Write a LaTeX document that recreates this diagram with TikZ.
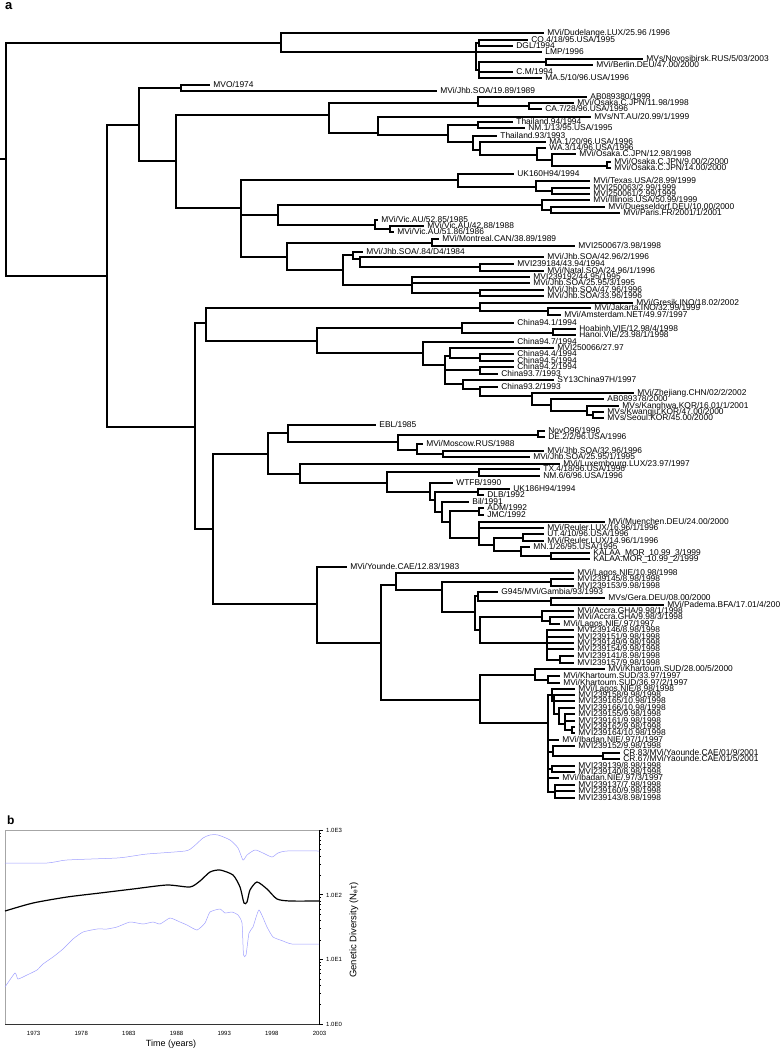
\documentclass[tikz,border=0pt]{standalone}
\usepackage{fontspec}
\setmainfont{Liberation Sans}
\tikzset{
  br/.style={line width=1.8pt, line cap=rect},
  lbl/.style={anchor=base west, inner sep=0pt, xshift=3.5pt, yshift=-2.9pt, font=\fontsize{8.4}{8.4}\selectfont},
  blu/.style={line width=0.5pt, color={rgb,255:red,160;green,160;blue,255}},
  blk/.style={line width=1.2pt, black},
  axl/.style={font=\fontsize{6}{6}\selectfont, inner sep=0pt}
}
\newcommand\myH[3]{\draw[br] (#1,#3) -- (#2,#3);}
\newcommand\myV[3]{\draw[br] (#1,#2) -- (#1,#3);}
\newcommand\myL[4]{\draw[br] (#1,#3) -- (#2,#3) node[lbl] {#4};}
\begin{document}
\begin{tikzpicture}[x=1pt,y=-1pt]
\useasboundingbox (0,0) rectangle (781,1050);
\node[anchor=base west, inner sep=0pt, font=\fontsize{13}{13}\selectfont\bfseries] (pa) at (5,9) {a};
% root
\myH{0}{6}{159}
\myV{6}{43}{276}
% top clade
\myH{6}{281}{43}
\myV{281}{33}{52}
\myL{281}{543}{33}{MVi/Dudelange.LUX/25.96 /1996}
\myH{281}{476}{52}
\myV{476}{43}{70}
\myH{476}{479}{43}
\myV{479}{40}{46}
\myL{479}{527}{40}{CO.4/18/95.USA/1995}
\myL{479}{512}{46}{DGL/1994}
\myL{476}{541}{52}{LMP/1996}
\myH{476}{479}{70}
\myV{479}{62}{78}
\myH{479}{546}{62}
\myV{546}{59}{65}
\myL{546}{642}{59}{MVs/Novosibirsk.RUS/5/03/2003}
\myL{546}{592}{65}{MVi/Berlin.DEU/47.00/2000}
\myL{479}{512}{72}{C.M/1994}
\myL{479}{541}{78}{MA.5/10/96.USA/1996}
% second root child
\myH{6}{107}{276}
\myV{107}{125}{427}
\myH{107}{139}{125}
\myV{139}{88}{161}
\myH{139}{181}{88}
\myV{181}{85}{91}
\myL{181}{209}{85}{MVO/1974}
\myL{181}{436}{91}{MVi/Jhb.SOA/19.89/1989}
\myH{139}{176}{161}
\myV{176}{115}{208}
\myH{176}{329}{115}
\myV{329}{103}{133}
\myH{329}{478}{103}
\myV{478}{97}{106}
\myL{478}{586}{97}{AB089380/1999}
\myH{478}{529}{106}
\myV{529}{103}{109}
\myL{529}{573}{103}{MVi/Osaka.C.JPN/11.98/1998}
\myL{529}{541}{109}{CA.7/28/96.USA/1996}
\myH{329}{378}{133}
\myV{378}{117}{135}
\myL{378}{590}{117}{MVs/NT.AU/20.99/1/1999}
\myH{378}{448}{135}
\myV{448}{125}{142}
\myH{448}{478}{125}
\myV{478}{122}{128}
\myL{478}{512}{122}{Thailand.94/1994}
\myL{478}{524}{128}{NM.1/13/95.USA/1995}
\myH{448}{473}{142}
\myV{473}{136}{150}
\myL{473}{496}{136}{Thailand.93/1993}
\myH{473}{480}{150}
\myV{480}{142}{155}
\myL{480}{545}{142}{MA.1/20/96.USA/1996}
\myH{480}{537}{155}
\myV{537}{148}{160}
\myL{537}{545}{148}{WA.3/14/96.USA/1996}
\myH{537}{552}{160}
\myV{552}{154}{166}
\myL{552}{575}{154}{MVi/Osaka.C.JPN/12.98/1998}
\myH{552}{607}{166}
\myV{607}{162}{168}
\myL{607}{610}{162}{MVi/Osaka.C.JPN/9.00/2/2000}
\myL{607}{610}{168}{MVi/Osaka.C.JPN/14.00/2000}
\myH{176}{241}{208}
\myV{241}{180}{257}
\myH{241}{458}{180}
\myV{458}{174}{187}
\myL{458}{513}{174}{UK160H94/1994}
\myH{458}{536}{187}
\myV{536}{181}{191}
\myL{536}{589}{181}{MVi/Texas.USA/28.99/1999}
\myH{536}{552}{191}
\myV{552}{188}{194}
\myL{552}{589}{188}{MVI250063/2.99/1999}
\myL{552}{589}{194}{MVI250061/2.99/1999}
\myH{241}{278}{215}
\myV{278}{205}{225}
\myH{278}{542}{205}
\myV{542}{200}{210}
\myL{542}{589}{200}{MVi/Illinois.USA/50.99/1999}
\myH{542}{551}{210}
\myV{551}{207}{213}
\myL{551}{604}{207}{MVi/Duesseldorf.DEU/10.00/2000}
\myL{551}{619}{213}{MVi/Paris.FR/2001/1/2001}
\myH{278}{375}{225}
\myV{375}{220}{229}
\myL{375}{377}{220}{MVi/Vic.AU/52.85/1985}
\myH{375}{390}{229}
\myV{390}{226}{232}
\myL{390}{423}{226}{MVi/Vic.AU/42.88/1988}
\myL{390}{393}{232}{MVi/Vic.AU/51.86/1986}
\myH{241}{287}{257}
\myV{287}{243}{270}
\myH{287}{432}{243}
\myV{432}{239}{246}
\myL{432}{438}{239}{MVi/Montreal.CAN/38.89/1989}
\myL{432}{574}{246}{MVI250067/3.98/1998}
\myH{287}{343}{270}
\myV{343}{255}{285}
\myH{343}{353}{255}
\myV{353}{252}{259}
\myL{353}{362}{252}{MVi/Jhb.SOA/.84/D4/1984}
\myH{353}{360}{259}
\myV{360}{257}{267}
\myL{360}{543}{257}{MVi/Jhb.SOA/42.96/2/1996}
\myH{360}{480}{267}
\myV{480}{264}{271}
\myL{480}{513}{264}{MVI239184/43.94/1994}
\myL{480}{543}{271}{MVi/Natal.SOA/24.96/1/1996}
\myH{343}{412}{285}
\myV{412}{277}{293}
\myL{412}{529}{277}{MVI239192/44.95/1995}
\myL{412}{529}{283}{MVi/Jhb.SOA/25.95/3/1995}
\myH{412}{480}{293}
\myV{480}{290}{296}
\myL{480}{543}{290}{MVi/Jhb.SOA/47.96/1996}
\myL{480}{543}{296}{MVi/Jhb.SOA/33.96/1996}
% lower half
\myH{107}{195}{427}
\myV{195}{323}{529}
\myH{195}{206}{323}
\myV{206}{308}{341}
\myH{206}{480}{308}
\myV{480}{303}{311}
\myL{480}{632}{303}{MVi/Gresik.INO/18.02/2002}
\myH{480}{548}{311}
\myV{548}{308}{315}
\myL{548}{590}{308}{MVi/Jakarta.INO/32.99/1999}
\myL{548}{560}{315}{MVi/Amsterdam.NET/49.97/1997}
\myH{206}{317}{341}
\myV{317}{328}{353}
\myH{317}{462}{328}
\myV{462}{323}{333}
\myL{462}{513}{323}{China94.1/1994}
\myH{462}{553}{333}
\myV{553}{329}{335}
\myL{553}{575}{329}{Hoabinh.VIE/12.98/4/1998}
\myL{553}{575}{335}{Hanoi.VIE/23.98/1/1998}
\myH{317}{423}{353}
\myV{423}{342}{365}
\myL{423}{513}{342}{China94.7/1994}
\myH{423}{445}{365}
\myV{445}{356}{384}
\myH{445}{450}{356}
\myV{450}{348}{358}
\myL{450}{553}{348}{MVI250066/27.97}
\myH{450}{480}{358}
\myV{480}{354}{361}
\myL{480}{513}{354}{China94.4/1994}
\myL{480}{513}{361}{China94.5/1994}
\myH{445}{480}{370}
\myV{480}{367}{374}
\myL{480}{513}{367}{China94.2/1994}
\myL{480}{497}{374}{China93.7/1993}
\myH{445}{463}{384}
\myV{463}{380}{389}
\myL{463}{553}{380}{SY13China97H/1997}
\myH{463}{480}{389}
\myV{480}{387}{396}
\myL{480}{497}{387}{China93.2/1993}
\myH{480}{532}{396}
\myV{532}{393}{405}
\myL{532}{633}{393}{MVi/Zhejiang.CHN/02/2/2002}
\myH{532}{551}{405}
\myV{551}{399}{411}
\myL{551}{603}{399}{AB089378/2000}
\myH{551}{587}{411}
\myV{587}{406}{415}
\myL{587}{618}{406}{MVs/Kanghwa.KOR/16.01/1/2001}
\myH{587}{593}{415}
\myV{593}{412}{418}
\myL{593}{603}{412}{MVs/Kwangju.KOR/47.00/2000}
\myL{593}{603}{418}{MVs/Seoul.KOR/45.00/2000}
\myH{195}{213}{529}
\myV{213}{454}{604}
\myH{213}{268}{454}
\myV{268}{433}{474}
\myH{268}{288}{433}
\myV{288}{425}{442}
\myL{288}{375}{425}{EBL/1985}
\myH{288}{398}{442}
\myV{398}{435}{450}
\myH{398}{538}{435}
\myV{538}{431}{437}
\myL{538}{544}{431}{NovO96/1996}
\myL{538}{544}{437}{DE.2/2/96.USA/1996}
\myH{398}{417}{450}
\myV{417}{444}{454}
\myL{417}{422}{444}{MVi/Moscow.RUS/1988}
\myH{417}{443}{454}
\myV{443}{451}{457}
\myL{443}{543}{451}{MVi/Jhb.SOA/32.96/1996}
\myL{443}{529}{457}{MVi/Jhb.SOA/25.95/1/1995}
\myH{268}{300}{474}
\myV{300}{464}{483}
\myL{300}{559}{464}{MVi/Luxembourg.LUX/23.97/1997}
\myH{300}{387}{483}
\myV{387}{472}{492}
\myH{387}{479}{472}
\myV{479}{469}{476}
\myL{479}{539}{469}{TX.4/18/96.USA/1996}
\myL{479}{539}{476}{NM.6/6/96.USA/1996}
\myH{387}{430}{492}
\myV{430}{483}{500}
\myL{430}{452}{483}{WTFB/1990}
\myH{430}{435}{500}
\myV{435}{492}{512}
\myH{435}{478}{492}
\myV{478}{489}{495}
\myL{478}{509}{489}{UK186H94/1994}
\myL{478}{483}{495}{DLB/1992}
\myH{435}{442}{512}
\myV{442}{502}{522}
\myL{442}{468}{502}{Bil/1991}
\myH{442}{450}{522}
\myV{450}{511}{538}
\myH{450}{479}{511}
\myV{479}{508}{515}
\myL{479}{483}{508}{ADM/1992}
\myL{479}{483}{515}{JMC/1992}
\myH{450}{479}{538}
\myV{479}{522}{545}
\myL{479}{604}{522}{MVi/Muenchen.DEU/24.00/2000}
\myL{479}{543}{528}{MVi/Reuler.LUX/16.96/1/1996}
\myH{479}{494}{545}
\myV{494}{538}{551}
\myH{494}{523}{538}
\myV{523}{534}{541}
\myL{523}{543}{534}{UT.4/10/96.USA/1996}
\myL{523}{543}{541}{MVi/Reuler.LUX/14.96/1/1996}
\myH{494}{521}{551}
\myV{521}{547}{556}
\myL{521}{529}{547}{MN.1/26/95.USA/1995}
\myH{521}{551}{556}
\myV{551}{553}{559}
\myL{551}{589}{553}{KALAA\_MOR\_10.99\_3/1999}
\myL{551}{589}{559}{KALAA.MOR\_10.99\_2/1999}
\myH{213}{317}{604}
\myV{317}{567}{643}
\myL{317}{346}{567}{MVi/Younde.CAE/12.83/1983}
\myH{317}{381}{643}
\myV{381}{585}{700}
\myH{381}{396}{585}
\myV{396}{573}{590}
\myL{396}{573}{573}{MVi/Lagos.NIE/10.98/1998}
\myH{396}{442}{590}
\myV{442}{582}{612}
\myH{442}{551}{582}
\myV{551}{579}{586}
\myL{551}{573}{579}{MVI239145/8.98/1998}
\myL{551}{573}{586}{MVI239153/9.98/1998}
\myH{442}{475}{612}
\myV{475}{596}{630}
\myH{475}{478}{596}
\myV{478}{592}{601}
\myL{478}{497}{592}{G945/MVi/Gambia/93/1993}
\myH{478}{551}{601}
\myV{551}{598}{605}
\myL{551}{604}{598}{MVs/Gera.DEU/08.00/2000}
\myL{551}{663}{605}{MVi/Padema.BFA/17.01/4/200}
\myH{475}{480}{630}
\myV{480}{617}{643}
\myH{480}{542}{617}
\myV{542}{611}{621}
\myL{542}{573}{611}{MVi/Accra.GHA/9.98/1/1998}
\myH{542}{550}{621}
\myV{550}{617}{624}
\myL{550}{573}{617}{MVi/Accra.GHA/9.98/3/1998}
\myL{550}{559}{624}{MVi/Lagos.NIE/.97/1997}
\myH{480}{547}{643}
\myV{547}{630}{660}
\myL{547}{573}{630}{MVI239146/8.98/1998}
\myL{547}{573}{637}{MVI239151/9.98/1998}
\myL{547}{573}{643}{MVI239149/9.98/1998}
\myL{547}{573}{649}{MVI239154/9.98/1998}
\myH{547}{560}{660}
\myV{560}{656}{663}
\myL{560}{573}{656}{MVI239141/8.98/1998}
\myL{560}{573}{663}{MVI239157/9.98/1998}
\myH{381}{480}{700}
\myV{480}{675}{723}
\myH{480}{535}{675}
\myV{535}{669}{680}
\myL{535}{604}{669}{MVi/Khartoum.SUD/28.00/5/2000}
\myH{535}{548}{680}
\myV{548}{676}{683}
\myL{548}{559}{676}{MVi/Khartoum.SUD/33.97/1997}
\myL{548}{559}{683}{MVi/Khartoum.SUD/36.97/2/1997}
\myH{480}{548}{723}
\myV{548}{695}{792}
\myH{548}{552}{695}
\myV{552}{689}{701}
\myL{552}{574}{689}{MVi/Lagos.NIE/8.98/1998}
\myH{552}{554}{701}
\myV{554}{695}{714}
\myL{554}{574}{695}{MVI239158/9.98/1998}
\myL{554}{574}{701}{MVI239165/10.98/1998}
\myH{554}{559}{714}
\myV{559}{708}{724}
\myL{559}{574}{708}{MVI239166/10.98/1998}
\myH{559}{565}{724}
\myV{565}{714}{730}
\myL{565}{574}{714}{MVI239155/9.98/1998}
\myL{565}{574}{721}{MVI239161/9.98/1998}
\myH{565}{572}{730}
\myV{572}{727}{733}
\myL{572}{574}{727}{MVI239162/9.98/1998}
\myL{572}{574}{733}{MVI239164/10.98/1998}
\myL{548}{558}{740}{MVi/Ibadan.NIE/.97/1/1997}
\myH{548}{553}{752}
\myV{553}{746}{756}
\myL{553}{574}{746}{MVI239152/9.98/1998}
\myH{553}{603}{756}
\myV{603}{753}{759}
\myL{603}{619}{753}{CR.83/MVi/Yaounde.CAE/01/9/2001}
\myL{603}{619}{759}{CR.67/MVi/Yaounde.CAE/01/5/2001}
\myH{548}{552}{769}
\myV{552}{766}{772}
\myL{552}{574}{766}{MVI239139/8.98/1998}
\myL{552}{574}{772}{MVI239140/8.98/1998}
\myL{548}{558}{778}{MVi/Ibadan.NIE/.97/3/1997}
\myH{548}{555}{792}
\myV{555}{785}{798}
\myL{555}{574}{785}{MVI239137/7.98/1998}
\myL{555}{574}{791}{MVI239160/9.98/1998}
\myL{555}{574}{798}{MVI239143/8.98/1998}
% ---------------- panel b
\node[anchor=base west, inner sep=0pt, font=\fontsize{12}{12}\selectfont\bfseries] (pb) at (7,824) {b};
\draw[line width=0.6pt, gray!70] (319,830) -- (5,830) -- (5,1024);
\draw[line width=0.6pt, black!80] (5,1024) -- (319,1024);
\draw[line width=0.7pt] (319,830) -- (319,1024);
\foreach \d in {0,1,2,3} {\draw[line width=0.5pt] (319,{1024-64.67*\d}) -- ++(4,0);}
\foreach \d in {0,1,2} {\foreach \k in {2,...,9} {\draw[line width=0.4pt] (319,{1024-64.67*\d-64.67*log10(\k)}) -- ++(2,0);}}
\node[axl, anchor=west] (e3) at (326,830) {1.0E3};
\node[axl, anchor=west] (e2) at (326,895) {1.0E2};
\node[axl, anchor=west] (e1) at (326,959) {1.0E1};
\node[axl, anchor=west] (e0) at (326,1024) {1.0E0};
\foreach \yy/\xx in {1973/33.6,1978/81.2,1983/128.9,1988/176.5,1993/224.2,1998/271.8,2003/319.5} {
  \node[axl] at (\xx,1033) {\yy};
}
\node[inner sep=0pt, font=\fontsize{9}{9}\selectfont] (tx) at (171,1044) {Time (years)};
\node[inner sep=0pt, rotate=90, font=\fontsize{9.5}{9.5}\selectfont] (ty) at (354,930) {Genetic Diversity (N\textsubscript{e}τ)};
% upper blue
\draw[blu] plot[smooth, tension=0.4] coordinates {(5,863) (47,863) (67,860) (117,858) (133,856) (147,854) (185,851) (193,847) (203,838) (210,835) (218,835) (230,840) (238,848) (243,860) (247,855) (255,850) (263,853) (272,857) (278,853) (287,851) (319,851)};
% black median
\draw[blk] plot[smooth, tension=0.4] coordinates {(5,911) (33,903) (67,897) (100,893) (133,889) (167,885) (190,887) (200,881) (210,872) (220,870) (233,875) (240,887) (244,903) (247,902) (250,890) (257,882) (267,889) (277,899) (290,901) (319,901)};
% lower blue
\draw[blu] plot[smooth, tension=0.3] coordinates {(5,987) (15,973) (18,979) (27,975) (37,970) (43,964) (53,957) (63,949) (73,939) (83,932) (97,929) (107,929) (117,927) (130,922) (143,924) (153,922) (160,924) (170,918) (180,922) (187,925) (197,930) (205,923) (210,912) (220,909) (225,913) (232,912) (238,915) (242,923) (243.5,955) (246,955) (249,933) (253,927) (259,910) (267,927) (273,937) (283,941) (292,944) (319,944)};
\end{tikzpicture}
\end{document}
